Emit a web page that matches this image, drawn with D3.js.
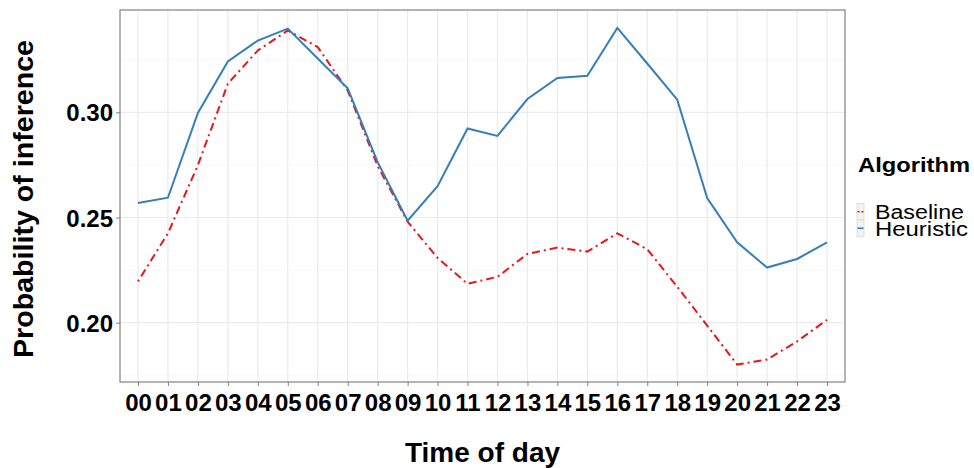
<!DOCTYPE html>
<html><head><meta charset="utf-8">
<script src="https://cdn.jsdelivr.net/npm/d3@7"></script>
<style>body{margin:0;background:#fff;} svg{display:block;font-family:"Liberation Sans",Arial,sans-serif;}</style>
</head><body>
<svg id="c" width="974" height="468"></svg>
<script>
const hours = ["00","01","02","03","04","05","06","07","08","09","10","11","12","13","14","15","16","17","18","19","20","21","22","23"];
const baseline = [0.2196,0.2425,0.2749,0.3136,0.3294,0.3389,0.3310,0.3104,0.2745,0.2480,0.2308,0.2185,0.2218,0.2327,0.2357,0.2338,0.2425,0.2349,0.2171,0.1986,0.1801,0.1825,0.1911,0.2014];
const heuristic = [0.2569,0.2594,0.2997,0.3242,0.3341,0.3398,0.3256,0.3114,0.2763,0.2485,0.2649,0.2923,0.2888,0.3063,0.3163,0.3174,0.3401,0.3232,0.3060,0.2592,0.2382,0.2262,0.2303,0.2382];
const yTicks = [0.20,0.25,0.30];
const yMinor = [0.175,0.225,0.275,0.325];
const seriesNames = ["Baseline","Heuristic"];
const colors = ["#e8171c","#377eb8"];
const dashes = ["2,4,8,4",null];

const svg = d3.select("#c");
const L=120, R=845, T=10, B=382;
const x = d3.scalePoint().domain(hours).range([L,R]).padding(0.6);
const y = d3.scaleLinear().domain([0.17182,0.34862]).range([B,T]);

const g = svg.append("g");
g.selectAll(".ym").data(yMinor).join("line").attr("x1",L).attr("x2",R)
 .attr("y1",d=>y(d)).attr("y2",d=>y(d)).attr("stroke","#f8f8f8").attr("stroke-width",1);
g.selectAll(".yg").data(yTicks).join("line").attr("x1",L).attr("x2",R)
 .attr("y1",d=>y(d)).attr("y2",d=>y(d)).attr("stroke","#ebebeb").attr("stroke-width",1.2);
g.selectAll(".xg").data(hours).join("line").attr("y1",T).attr("y2",B)
 .attr("x1",d=>x(d)).attr("x2",d=>x(d)).attr("stroke","#ebebeb").attr("stroke-width",1.2);

const ln = d3.line().x((d,i)=>x(hours[i])).y(d=>y(d));
[baseline,heuristic].forEach((s,k)=>{
  svg.append("path").datum(s).attr("d",ln).attr("fill","none")
   .attr("stroke",colors[k]).attr("stroke-width",2)
   .attr("stroke-dasharray",dashes[k]);
});

svg.append("rect").attr("x",L).attr("y",T).attr("width",R-L).attr("height",B-T)
 .attr("fill","none").attr("stroke","#808080").attr("stroke-width",1.2);

const xa = svg.append("g").attr("transform",`translate(0,${B})`)
 .call(d3.axisBottom(x).tickSize(4).tickPadding(5));
xa.select(".domain").remove();
xa.selectAll("line").attr("stroke","#808080");
xa.selectAll("text").attr("font-size",24).attr("font-weight","bold").attr("fill","#000")
 .attr("font-family","Liberation Sans, Arial, sans-serif").attr("dy","0.85em");

const ya = svg.append("g").attr("transform",`translate(${L},0)`)
 .call(d3.axisLeft(y).tickValues(yTicks).tickFormat(d3.format(".2f")).tickSize(4).tickPadding(3));
ya.select(".domain").remove();
ya.selectAll("line").attr("stroke","#808080");
ya.selectAll("text").attr("font-size",24).attr("font-weight","bold").attr("fill","#000")
 .attr("font-family","Liberation Sans, Arial, sans-serif").attr("dy","0.36em");

svg.append("text").attr("x",(L+R)/2).attr("y",462).attr("text-anchor","middle")
 .attr("font-size",28).attr("font-weight","bold").text("Time of day");
svg.append("text").attr("transform","translate(33,199) rotate(-90)").attr("text-anchor","middle")
 .attr("font-size",28).attr("font-weight","bold").attr("textLength",318).attr("lengthAdjust","spacingAndGlyphs")
 .text("Probability of inference");

svg.append("text").attr("x",858).attr("y",172).attr("font-size",21).attr("font-weight","bold")
 .attr("textLength",112).attr("lengthAdjust","spacingAndGlyphs").text("Algorithm");
const keyY=[203.5,220];
seriesNames.forEach((n,k)=>{
  svg.append("rect").attr("x",857).attr("y",keyY[k]).attr("width",7).attr("height",16.5)
   .attr("fill","#f2f2f2").attr("stroke","#d9d9d9").attr("stroke-width",0.8);
  svg.append("line").attr("x1",857.5).attr("x2",863.5).attr("y1",keyY[k]+8.25).attr("y2",keyY[k]+8.25)
   .attr("stroke",colors[k]).attr("stroke-width",1.6).attr("stroke-dasharray",k===0?"2,2":null);
  svg.append("text").attr("x",875).attr("y",keyY[k]+15.5).attr("font-size",19.5)
   .attr("textLength",k===0?89:93).attr("lengthAdjust","spacingAndGlyphs").text(n);
});
</script>
</body></html>
